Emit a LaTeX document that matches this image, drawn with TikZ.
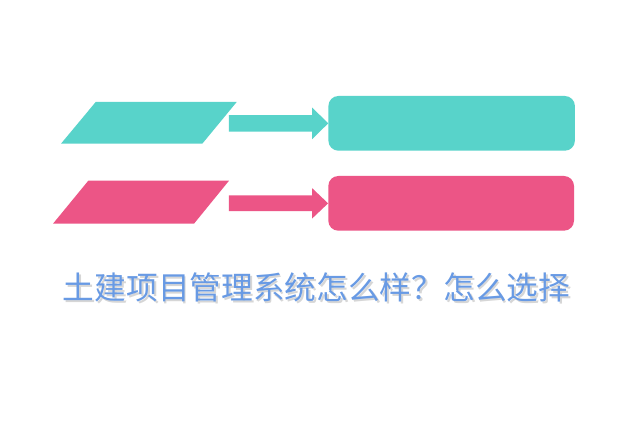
\documentclass[tikz,border=0pt]{standalone}
\usepackage{fontspec}
\newfontfamily\cjk{Noto Sans CJK SC}
\definecolor{tealc}{RGB}{88,211,202}
\definecolor{pinkc}{RGB}{236,85,134}
\definecolor{titlec}{RGB}{104,154,228}
\begin{document}
\begin{tikzpicture}[x=1pt,y=-1pt,
  boxst/.style={rectangle,rounded corners=10pt,minimum width=246.5pt,minimum height=54.7pt,inner sep=0pt,draw=none},
  titlest/.style={font=\cjk\fontsize{31.7pt}{34pt}\selectfont,inner sep=0pt,anchor=base}]
\useasboundingbox (0,0) rectangle (640,427);
\fill[white] (0,0) rectangle (640,427);
% parallelograms
\fill[tealc] (95.7,102) -- (236.7,102) -- (202.3,143.7) -- (61,143.7) -- cycle;
\fill[pinkc] (88.3,180.7) -- (229,180.7) -- (194,223.7) -- (53,223.7) -- cycle;
% boxes
\node[boxst,fill=tealc] (b1) at (451.65,123.35) {};
\node[boxst,fill=pinkc,minimum width=245.7pt] (b2) at (451.15,203.35) {};
% block arrows
\fill[tealc] (b1.west) -- ++(-16,-15.8) -- ++(0,7.6) -- ++(-83.3,0) -- ++(0,16.4) -- ++(83.3,0) -- ++(0,7.6) -- cycle;
\fill[pinkc] (b2.west) -- ++(-16,-15.2) -- ++(0,7.3) -- ++(-83.3,0) -- ++(0,15.8) -- ++(83.3,0) -- ++(0,7.3) -- cycle;
% title with soft shadow
\node[titlest,text=black,opacity=0.16] (shadow) at (318.3,301.5) {土建项目管理系统怎么样？怎么选择};
\node[titlest,text=titlec] (title) at (316.5,299.5) {土建项目管理系统怎么样？怎么选择};
\end{tikzpicture}
\end{document}
